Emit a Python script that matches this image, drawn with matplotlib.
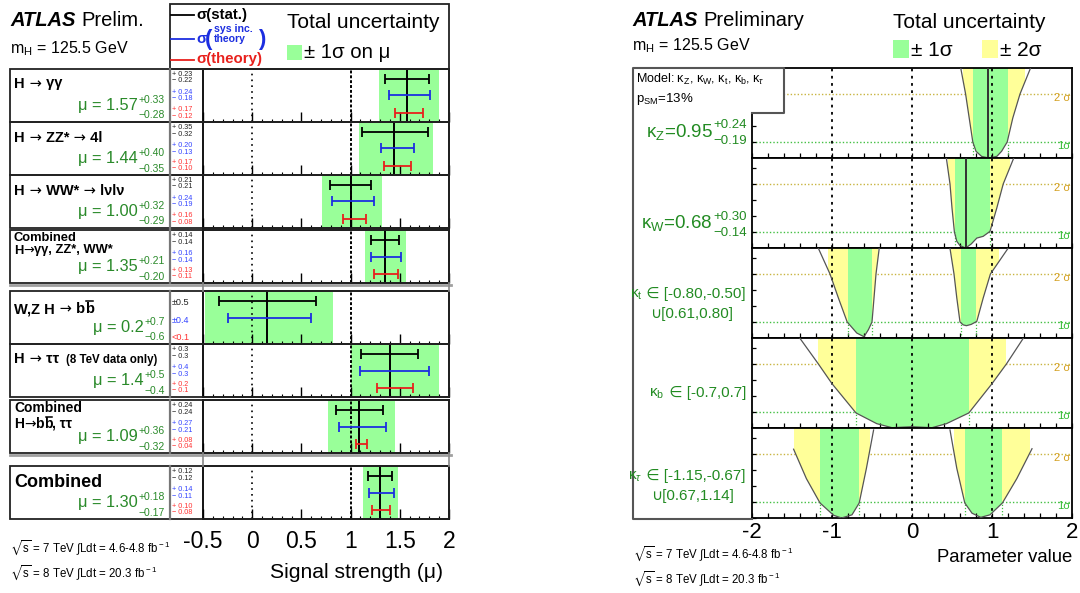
import numpy as np
import matplotlib
matplotlib.use("Agg")
import matplotlib.pyplot as plt
from matplotlib.patches import Rectangle, Polygon
from matplotlib.ticker import MultipleLocator

plt.rcParams.update({
    'font.family': ['Liberation Sans', 'DejaVu Sans'],
    'mathtext.fontset': 'custom',
    'mathtext.rm': 'Liberation Sans',
    'mathtext.it': 'Liberation Sans:italic',
    'mathtext.bf': 'Liberation Sans:bold',
    'mathtext.sf': 'Liberation Sans',
    'mathtext.fallback': 'stixsans',
    'axes.unicode_minus': False,
})

# ---------------- data: left panel (signal strength) ----------------
mu      = [1.57, 1.44, 1.00, 1.35, 0.15, 1.40, 1.09, 1.30]
tot_up  = [0.33, 0.40, 0.32, 0.21, 0.67, 0.50, 0.36, 0.18]
tot_dn  = [0.28, 0.35, 0.29, 0.20, 0.63, 0.40, 0.32, 0.17]
stat_up = [0.23, 0.35, 0.21, 0.14, 0.50, 0.29, 0.24, 0.12]
stat_dn = [0.22, 0.32, 0.21, 0.14, 0.49, 0.29, 0.24, 0.12]
sys_up  = [0.24, 0.20, 0.24, 0.16, 0.45, 0.40, 0.27, 0.14]
sys_dn  = [0.18, 0.13, 0.19, 0.14, 0.40, 0.30, 0.21, 0.11]
th_up   = [0.17, 0.17, 0.16, 0.13, np.nan, 0.23, 0.08, 0.10]
th_dn   = [0.12, 0.10, 0.08, 0.11, np.nan, 0.13, 0.04, 0.08]

mu_text = ["1.57", "1.44", "1.00", "1.35", "0.2", "1.4", "1.09", "1.30"]
up_text = ["+0.33", "+0.40", "+0.32", "+0.21", "+0.7", "+0.5", "+0.36", "+0.18"]
dn_text = ["\u22120.28", "\u22120.35", "\u22120.29", "\u22120.20", "\u22120.6", "\u22120.4", "\u22120.32", "\u22120.17"]
stat_text = [("+ 0.23", "\u2212 0.22"), ("+ 0.35", "\u2212 0.32"), ("+ 0.21", "\u2212 0.21"), ("+ 0.14", "\u2212 0.14"),
             ("\u00b10.5", None), ("+ 0.3", "\u2212 0.3"), ("+ 0.24", "\u2212 0.24"), ("+ 0.12", "\u2212 0.12")]
sys_text = [("+ 0.24", "\u2212 0.18"), ("+ 0.20", "\u2212 0.13"), ("+ 0.24", "\u2212 0.19"), ("+ 0.16", "\u2212 0.14"),
            ("\u00b10.4", None), ("+ 0.4", "\u2212 0.3"), ("+ 0.27", "\u2212 0.21"), ("+ 0.14", "\u2212 0.11")]
th_text = [("+ 0.17", "\u2212 0.12"), ("+ 0.17", "\u2212 0.10"), ("+ 0.16", "\u2212 0.08"), ("+ 0.13", "\u2212 0.11"),
           ("<0.1", None), ("+ 0.2", "\u2212 0.1"), ("+ 0.08", "\u2212 0.04"), ("+ 0.10", "\u2212 0.08")]

# ---------------- data: right panel (coupling scans, -2 ln L) ----------------
kZ_x = [0.61, 0.67, 0.715, 0.76, 0.80, 0.87, 0.96, 1.06, 1.12, 1.19, 1.26, 1.35, 1.48]
kZ_y = [5.6, 4.0, 2.5, 1.0, 0.42, 0.10, 0.0, 0.10, 0.42, 1.0, 2.5, 4.0, 5.6]
kW_x = [0.43, 0.475, 0.50, 0.53, 0.56, 0.60, 0.67, 0.74, 0.81, 0.89, 0.975, 1.06, 1.14, 1.27]
kW_y = [5.6, 4.0, 2.5, 1.0, 0.42, 0.15, 0.0, 0.25, 0.62, 0.73, 1.04, 2.5, 4.0, 5.6]
kt_a_x = [-1.17, -1.025, -0.92, -0.81, -0.69, -0.60, -0.545, -0.50, -0.45, -0.41]
kt_a_y = [5.6, 4.0, 2.5, 1.0, 0.31, 0.08, 0.52, 1.0, 4.0, 5.6]
kt_b_x = [0.475, 0.525, 0.56, 0.60, 0.64, 0.68, 0.74, 0.81, 0.89, 0.98, 1.20]
kt_b_y = [5.6, 4.0, 2.5, 1.0, 0.82, 0.77, 0.85, 1.04, 2.5, 4.0, 5.6]
kb_x = [-1.40, -1.17, -1.00, -0.70, -0.44, -0.25, 0.0, 0.25, 0.43, 0.71, 1.00, 1.18, 1.39]
kb_y = [5.6, 4.0, 2.77, 0.94, 0.27, 0.02, 0.08, 0.02, 0.27, 0.94, 2.77, 4.0, 5.6]
ktau_a_x = [-1.48, -1.32, -1.15, -0.98, -0.88, -0.75, -0.66, -0.57, -0.48]
ktau_a_y = [4.3, 2.46, 0.94, 0.17, 0.0, 0.2, 0.94, 3.1, 5.5]
ktau_b_x = [0.475, 0.56, 0.66, 0.75, 0.86, 0.975, 1.13, 1.31, 1.50]
ktau_b_y = [5.5, 3.1, 0.94, 0.30, 0.04, 0.2, 0.94, 2.46, 4.33]

best_fit = [0.95, 0.68, None, None, None]
green_int = [[(0.76, 1.20)], [(0.54, 0.98)], [(-0.80, -0.50), (0.61, 0.80)],
             [(-0.70, 0.71)], [(-1.15, -0.66), (0.66, 1.13)]]
yellow_int = [[(0.64, 1.41)], [(0.455, 1.22)], [(-1.055, -0.43), (0.49, 1.09)],
              [(-1.17, 1.18)], [(-1.475, -0.52), (0.52, 1.47)]]
branches = [[(kZ_x, kZ_y)], [(kW_x, kW_y)], [(kt_a_x, kt_a_y), (kt_b_x, kt_b_y)],
            [(kb_x, kb_y)], [(ktau_a_x, ktau_a_y), (ktau_b_x, ktau_b_y)]]

left_ticks = [-0.5, 0, 0.5, 1, 1.5, 2]
right_ticks = [-2, -1, 0, 1, 2]

# ---------------- figure ----------------
W, H = 1080, 593
fig = plt.figure(figsize=(W / 100, H / 100), dpi=100)
ov = fig.add_axes([0, 0, 1, 1], zorder=20)
ov.set_xlim(0, W)
ov.set_ylim(H, 0)
ov.set_autoscale_on(False)
ov.set_axis_off()
REN = fig.canvas.get_renderer()

GREEN = '#99ff99'
YELLOW = '#ffff99'
TXTGREEN = '#2a8a2a'
BLUE = '#1c2ee0'
RED = '#e8201c'
AR = {'family': 'DejaVu Sans', 'weight': 'normal'}
NB = {}


def T(x, y, s, **kw):
    kw.setdefault('va', 'baseline')
    return ov.text(x, y, s, **kw)


def width(t):
    return t.get_window_extent(renderer=REN).width


def seq(x, y, parts, align='left', **common):
    texts = []
    cur = 0.0
    for s, extra in parts:
        kw = dict(common)
        kw.update(extra)
        t = T(0, y, s, **kw)
        texts.append((t, cur, width(t), s, kw))
        cur += width(t)
    off = x if align == 'left' else (x - cur if align == 'right' else x - cur / 2)
    for t, c, w, s, kw in texts:
        t.set_x(off + c)
        if s == 'b\u0304':
            t.set_text('b')
            fpx = kw.get('fontsize', 10) * 100 / 72
            yb = y - 0.80 * fpx
            ov.plot([off + c + 1.5, off + c + w - 0.5], [yb, yb], color='k', lw=1.1)
    return off + cur


def px_axes(x0, y0, x1, y1, **kw):
    return fig.add_axes([x0 / W, 1 - y1 / H, (x1 - x0) / W, (y1 - y0) / H], **kw)


def line(xs, ys, **kw):
    ov.plot(xs, ys, **kw)


def val_ss(xr, yb, main, sup, sub, fs, fss, color, dsup, dsub):
    ts = T(xr, yb - dsup, sup, ha='right', fontsize=fss, color=color)
    tb = T(xr, yb + dsub, sub, ha='right', fontsize=fss, color=color)
    w = max(width(ts), width(tb))
    T(xr - w - 1, yb, main, ha='right', fontsize=fs, color=color)


# ======================= LEFT PANEL =======================
L_X0, L_X1 = 203, 449
left_tops = [69, 122, 175, 230, 291, 344, 400, 466]
ROW_H = 53

for i, top in enumerate(left_tops):
    ax = px_axes(L_X0, top, L_X1, top + ROW_H)
    ax.set_xlim(-0.5, 2)
    ax.set_ylim(0, 1)
    ax.axvspan(mu[i] - tot_dn[i], mu[i] + tot_up[i], color=GREEN, lw=0, zorder=0)
    ax.axvline(0, color='k', lw=1.2, ls=(0, (1, 2.5)), zorder=2)
    ax.axvline(1, color='k', lw=1.4, ls=(0, (1.5, 1.0)), zorder=2)
    ax.axvline(mu[i], color='k', lw=1.4, zorder=3)
    for vu, vd, yy, col in [(stat_up, stat_dn, 0.81, 'k'), (sys_up, sys_dn, 0.5, BLUE),
                            (th_up, th_dn, 0.17, RED)]:
        if np.isnan(vu[i]):
            continue
        ax.errorbar([mu[i]], [yy], xerr=[[vd[i]], [vu[i]]], fmt='none', ecolor=col,
                    elinewidth=1.3, capsize=3.5, capthick=1.3, zorder=4)
    ax.set_yticks([])
    ax.xaxis.set_major_locator(MultipleLocator(0.5))
    ax.xaxis.set_minor_locator(MultipleLocator(0.1))
    ax.tick_params(axis='x', which='major', direction='in', length=7, width=1)
    ax.tick_params(axis='x', which='minor', direction='in', length=2.5, width=0.8)
    for s in ax.spines.values():
        s.set_linewidth(1.3)
    if i == len(left_tops) - 1:
        ax.set_xticks(left_ticks)
        ax.set_xticklabels(['%g' % v for v in left_ticks])
        ax.tick_params(axis='x', labelsize=16.5, pad=8)
    else:
        ax.tick_params(labelbottom=False)

    # label box
    ov.add_patch(Rectangle((10, top), L_X1 - 10, ROW_H, fc='none', ec='#222222', lw=1.3))
    line([170, 170], [top, top + ROW_H], color='#777777', lw=1.6)
    # mu value
    val_ss(165, top + 41, "\u03bc = " + mu_text[i], up_text[i], dn_text[i], 11.8, 7.5, TXTGREEN, 7, 8.5)
    # number column
    groups = [(stat_text[i], '#222222', 7), (sys_text[i], '#3344ff', 25), (th_text[i], '#ff3333', 42)]
    for (a, b), col, off in groups:
        if b is None:
            T(172, top + off + 7, a, fontsize=6.6, color=col)
        else:
            T(172, top + off, a, fontsize=5.2, color=col)
            T(172, top + off + 6.5, b, fontsize=5.2, color=col)

# row labels
t0 = left_tops
LB = dict(fontsize=10.5, weight='bold')
BBAR = 'b\u0304'
seq(14, t0[0] + 18.5, [("H", NB), (" \u2192", AR), (" \u03b3\u03b3", NB)], **LB)
seq(14, t0[1] + 20, [("H", NB), (" \u2192", AR), (" ZZ*", NB), (" \u2192", AR), (" 4l", NB)], **LB)
seq(14, t0[2] + 20, [("H", NB), (" \u2192", AR), (" WW*", NB), (" \u2192", AR), (" l\u03bdl\u03bd", NB)], **LB)
T(14, t0[3] + 11, "Combined", fontsize=9.3, weight='bold')
seq(14, t0[3] + 23.5, [("H", NB), ("\u2192", AR), ("\u03b3\u03b3, ZZ*, WW*", NB)], fontsize=9.3, weight='bold')
seq(14, t0[4] + 22, [("W,Z H", NB), (" \u2192", AR), (" b", NB), (BBAR, NB)], **LB)
xe = seq(14, t0[5] + 19, [("H", NB), (" \u2192", AR), (" \u03c4\u03c4", NB)], **LB)
T(xe + 7, t0[5] + 19, "(8 TeV data only)", fontsize=8.3, weight='bold')
T(14, t0[6] + 12, "Combined", fontsize=10, weight='bold')
seq(14, t0[6] + 28, [("H", NB), ("\u2192", AR), ("b", NB), (BBAR, NB), (", \u03c4\u03c4", NB)],
    fontsize=10, weight='bold')
T(14, t0[7] + 21, "Combined", fontsize=13, weight='bold')

# gaps between groups
for gy, y0, y1 in [(285, 283, 291), (455, 453, 466)]:
    line([10, 451], [gy, gy], color='#a0a0a0', lw=2)
    line([L_X0, L_X0], [y0, y1], color='#888888', lw=1.2)
    line([L_X1, L_X1], [y0, y1], color='#888888', lw=1.2)

# header left
ta = T(10, 26.5, "ATLAS", fontsize=14.5, weight='bold', style='italic')
T(10 + width(ta) + 6, 26.5, "Prelim.", fontsize=14.5)
T(10, 53, r"m$_{\rm H}$ = 125.5 GeV", fontsize=11.5)

# legend box left
ov.add_patch(Rectangle((170, 4), L_X1 - 170, 65, fc='none', ec='#222222', lw=1.3))
line([171, 194], [15, 15], color='k', lw=1.3)
T(196, 19, "\u03c3(stat.)", fontsize=10.8, weight='bold', color='k')
line([171, 194], [39, 39], color=BLUE, lw=1.3)
T(196, 43, "\u03c3", fontsize=10.8, weight='bold', color=BLUE)
T(205, 45, "(", fontsize=16, weight='bold', color=BLUE)
T(214, 32.5, "sys inc.", fontsize=7.6, weight='bold', color=BLUE)
T(214, 42, "theory", fontsize=7.6, weight='bold', color=BLUE)
T(258, 45, ")", fontsize=16, weight='bold', color=BLUE)
line([171, 194], [60, 60], color=RED, lw=1.3)
T(196, 63.5, "\u03c3(theory)", fontsize=10.8, weight='bold', color=RED)
T(287, 28.5, "Total uncertainty", fontsize=15)
ov.add_patch(Rectangle((287, 45), 15, 15, fc=GREEN, ec='none'))
T(304, 58, "\u00b1 1\u03c3 on \u03bc", fontsize=14.7)

T(443, 578, "Signal strength (\u03bc)", fontsize=15.2, ha='right')
T(10, 552, r"$\sqrt{\rm s}$ = 7 TeV $\int$Ldt = 4.6-4.8 fb$^{\rm -1}$", fontsize=8.3)
T(10, 577, r"$\sqrt{\rm s}$ = 8 TeV $\int$Ldt = 20.3 fb$^{\rm -1}$", fontsize=8.3)

# ======================= RIGHT PANEL =======================
R_X0, R_X1 = 752, 1072
right_tops = [68, 158, 248, 338, 428]
R_H = 90
YTOP = 5.625

for j, top in enumerate(right_tops):
    ax = px_axes(R_X0, top, R_X1, top + R_H)
    ax.set_xlim(-2, 2)
    ax.set_ylim(0, YTOP)
    ax.axhline(4, color='#c8b440', lw=1.0, ls=(0, (1, 1.5)), zorder=0.5)
    ax.axhline(1, color='#44c044', lw=1.0, ls=(0, (1, 1.5)), zorder=0.5)
    for xs, ys in branches[j]:
        verts = list(zip(xs, ys)) + [(xs[-1], YTOP + 1), (xs[0], YTOP + 1)]
        for ints, col in [(yellow_int[j], YELLOW), (green_int[j], GREEN)]:
            for a, b in ints:
                clip = Polygon(verts, closed=True, transform=ax.transData)
                r = Rectangle((a, 0), b - a, YTOP + 1, fc=col, ec='none', zorder=1)
                ax.add_patch(r)
                r.set_clip_path(clip)
        ax.plot(xs, ys, color='#555555', lw=0.9, zorder=5)
    for a, b in green_int[j]:
        for xv in (a, b):
            ax.plot([xv, xv], [0, 1], color='#44c044', lw=0.9, ls=(0, (1, 1.5)), zorder=2)
    for xv in (-1, 0, 1):
        ax.axvline(xv, color='k', lw=1.3, ls=(0, (1.5, 2.5)), zorder=3)
    if best_fit[j] is not None:
        ax.axvline(best_fit[j], color='#333333', lw=1.4, zorder=4)
    ax.xaxis.set_major_locator(MultipleLocator(1))
    ax.xaxis.set_minor_locator(MultipleLocator(0.2))
    ax.tick_params(axis='x', which='both', direction='in', length=3.5, width=0.9)
    ax.yaxis.set_major_locator(MultipleLocator(1))
    ax.tick_params(axis='y', which='both', direction='in', length=3, width=0.9, labelleft=False)
    for s in ax.spines.values():
        s.set_linewidth(1.3)
    if j == len(right_tops) - 1:
        ax.set_xticks(right_ticks)
        ax.set_xticklabels(['%g' % v for v in right_ticks])
        ax.tick_params(axis='x', labelsize=16, pad=3)
    else:
        ax.tick_params(labelbottom=False)
    y2 = top + R_H * (1 - 4 / YTOP)
    y1 = top + R_H * (1 - 1 / YTOP)
    T(1070, y2 + 7, "2 \u03c3", fontsize=8, color='#d4a020', ha='right')
    T(1070, y1 + 7, "1\u03c3", fontsize=8, color='#33bb33', ha='right')

# label column / model box
ov.add_patch(Rectangle((633, 67.5), 151, 45.5, fc='white', ec='none'))
line([752, 784, 784, 633, 633, 752], [113, 113, 67.5, 67.5, 519, 519], color='#555555', lw=1.5)
T(636, 83, r"Model: κ$_{\rm Z}$, κ$_{\rm W}$, κ$_{\rm t}$, κ$_{\rm b}$, κ$_{τ}$", fontsize=9)
T(636, 102, r"p$_{\rm SM}$=13%", fontsize=9.5)

KG = '#228b22'
KL = dict(fontsize=11, color=KG)
val_ss(747, 137, r"κ$_{\rm Z}$=0.95", "+0.24", "\u22120.19", 13.5, 9.5, KG, 8.5, 7.5)
val_ss(747, 228, r"κ$_{\rm W}$=0.68", "+0.30", "\u22120.14", 13.5, 9.5, KG, 8.5, 7.5)
seq(746, 298, [(r"κ$_{\rm t}$", NB), (" \u2208 [-0.80,-0.50]", NB)], align='right', **KL)
T(692, 318, "\u222a[0.61,0.80]", ha='center', **KL)
seq(746, 397, [(r"κ$_{\rm b}$", NB), (" \u2208 [-0.7,0.7]", NB)], align='right', **KL)
seq(746, 480, [(r"κ$_{τ}$", NB), (" \u2208 [-1.15,-0.67]", NB)], align='right', **KL)
T(692, 500, "\u222a[0.67,1.14]", ha='center', **KL)

# header right
ta = T(632, 26, "ATLAS", fontsize=14.5, weight='bold', style='italic')
T(632 + width(ta) + 6, 26, "Preliminary", fontsize=14.5)
T(632, 50, r"m$_{\rm H}$ = 125.5 GeV", fontsize=11.5)
T(893, 27.5, "Total uncertainty", fontsize=15)
ov.add_patch(Rectangle((893, 40), 16, 18, fc=GREEN, ec='none'))
T(911, 56, "\u00b1 1\u03c3", fontsize=15)
ov.add_patch(Rectangle((982, 40), 16, 18, fc=YELLOW, ec='none'))
T(1000, 56, "\u00b1 2\u03c3", fontsize=15)

T(1072, 562, "Parameter value", fontsize=13.3, ha='right')
T(633, 558, r"$\sqrt{\rm s}$ = 7 TeV $\int$Ldt = 4.6-4.8 fb$^{\rm -1}$", fontsize=8.3)
T(633, 583, r"$\sqrt{\rm s}$ = 8 TeV $\int$Ldt = 20.3 fb$^{\rm -1}$", fontsize=8.3)

fig.savefig("out.png", dpi=100)
